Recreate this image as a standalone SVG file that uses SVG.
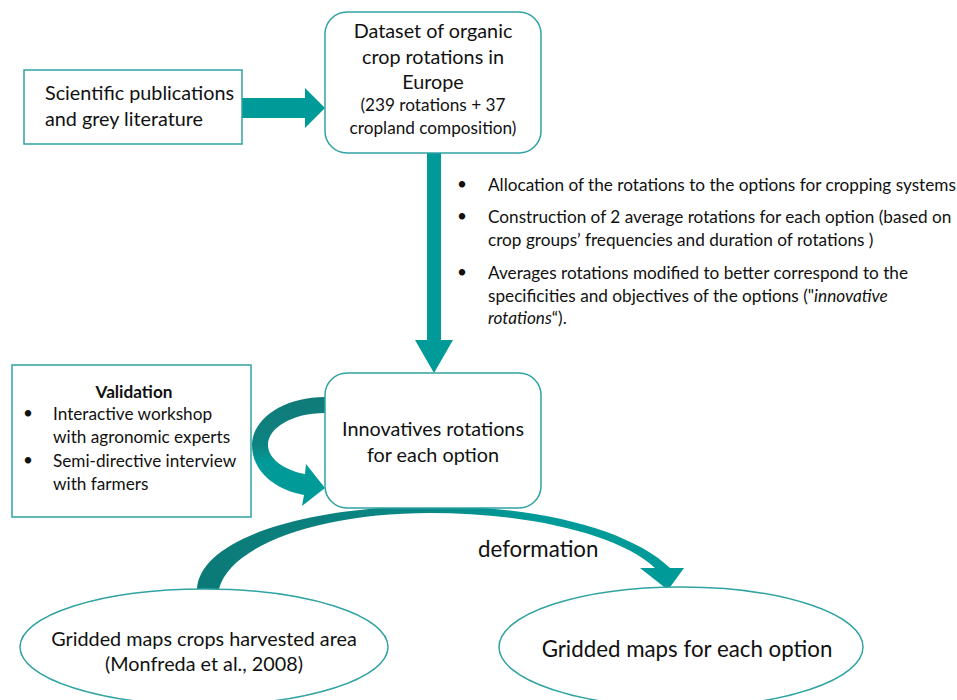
<svg xmlns="http://www.w3.org/2000/svg" width="957" height="700" viewBox="0 0 957 700">
  <style>
    text { font-family: Lato, "Liberation Sans", sans-serif; fill: #111; }
    .box { fill: #fff; stroke: #31a3a3; stroke-width: 1.5; }
    .arrow { fill: #009b98; }
    .lg { font-size: 19.8px; }
    .xl { font-size: 22.3px; }
    .sm { font-size: 17.2px; }
    .c { text-anchor: middle; }
  </style>
  <defs>
    <linearGradient id="loopShade" gradientUnits="userSpaceOnUse" x1="0" y1="397" x2="0" y2="506">
      <stop offset="0" stop-color="#107a78"/>
      <stop offset="0.45" stop-color="#0d8482"/>
      <stop offset="0.6" stop-color="#009b98"/>
      <stop offset="1" stop-color="#009b98"/>
    </linearGradient>
    <linearGradient id="archShade" gradientUnits="userSpaceOnUse" x1="197" y1="0" x2="684" y2="0">
      <stop offset="0" stop-color="#0b7a77"/>
      <stop offset="0.45" stop-color="#0a8785"/>
      <stop offset="0.7" stop-color="#009b98"/>
      <stop offset="1" stop-color="#009b98"/>
    </linearGradient>
  </defs>

  <!-- connectors -->
  <g id="connectors">
    <!-- literature to dataset -->
    <polygon class="arrow" points="242,98 305,98 305,88 325,108 305,128 305,118 242,118"/>
    <!-- dataset to innovative rotations -->
    <polygon class="arrow" points="427,153 441,153 441,340 453,340 434,373 415,340 427,340"/>
    <!-- validation loop -->
    <path fill="url(#loopShade)" d="M325,397 C282,397 252,420 252,445 C252,472 276,490 304,495 L302,506 L325,488 L306,464 L305,474 C283,470 268,458 268,445 C268,428 292,413 325,413 Z"/>
    <!-- deformation arch -->
    <path fill="url(#archShade)" d="M197,589 C200,540 300,507 430,506 C540,506 630,530 670,568 L684,568 L668,590 L640,568 L655,568 C620,535 530,513 430,513 C320,513 230,545 219,589 Z"/>
    <text class="xl" x="478" y="557">deformation</text>
  </g>

  <g id="literature">
    <rect class="box" x="24" y="70" width="218" height="74"/>
    <text class="lg" x="45" y="100">Scientific publications</text>
    <text class="lg" x="45" y="126">and grey literature</text>
  </g>

  <g id="dataset">
    <rect class="box" x="325" y="12" width="216" height="141" rx="22"/>
    <text class="lg c" x="433" y="38">Dataset of organic</text>
    <text class="lg c" x="433" y="64">crop rotations in</text>
    <text class="lg c" x="433" y="89">Europe</text>
    <text class="sm c" x="433" y="111">(239 rotations + 37</text>
    <text class="sm c" x="433" y="134">cropland composition)</text>
  </g>

  <g id="steps">
    <text class="sm" x="457" y="190">•</text>
    <text class="sm" x="488" y="191">Allocation of the rotations to the options for cropping systems</text>
    <text class="sm" x="457" y="222">•</text>
    <text class="sm" x="488" y="223">Construction of 2 average rotations for each option (based on</text>
    <text class="sm" x="488" y="246">crop groups’ frequencies and duration of rotations )</text>
    <text class="sm" x="457" y="278">•</text>
    <text class="sm" x="488" y="279">Averages rotations modified to better correspond to the</text>
    <text class="sm" x="488" y="302">specificities and objectives of the options ("<tspan font-style="italic">innovative</tspan></text>
    <text class="sm" x="488" y="324"><tspan font-style="italic">rotations</tspan>“).</text>
  </g>

  <g id="validation">
    <rect class="box" x="12" y="365" width="239" height="152"/>
    <text class="sm c" x="134" y="398" font-weight="bold">Validation</text>
    <text class="sm" x="23" y="419">•</text>
    <text class="sm" x="53" y="420">Interactive workshop</text>
    <text class="sm" x="53" y="443">with agronomic experts</text>
    <text class="sm" x="23" y="466">•</text>
    <text class="sm" x="53" y="467">Semi-directive interview</text>
    <text class="sm" x="53" y="490">with farmers</text>
  </g>

  <g id="innovative">
    <rect class="box" x="325" y="373" width="216" height="135" rx="22"/>
    <text class="lg c" x="433" y="436">Innovatives rotations</text>
    <text class="lg c" x="433" y="462">for each option</text>
  </g>

  <g id="harvested-maps">
    <ellipse class="box" cx="204" cy="647" rx="184" ry="58"/>
    <text class="lg c" x="204" y="646">Gridded maps crops harvested area</text>
    <text class="lg c" x="204" y="671">(Monfreda et al., 2008)</text>
  </g>

  <g id="option-maps">
    <ellipse class="box" cx="681" cy="647" rx="182" ry="60"/>
    <text class="xl c" x="687" y="657">Gridded maps for each option</text>
  </g>
</svg>
